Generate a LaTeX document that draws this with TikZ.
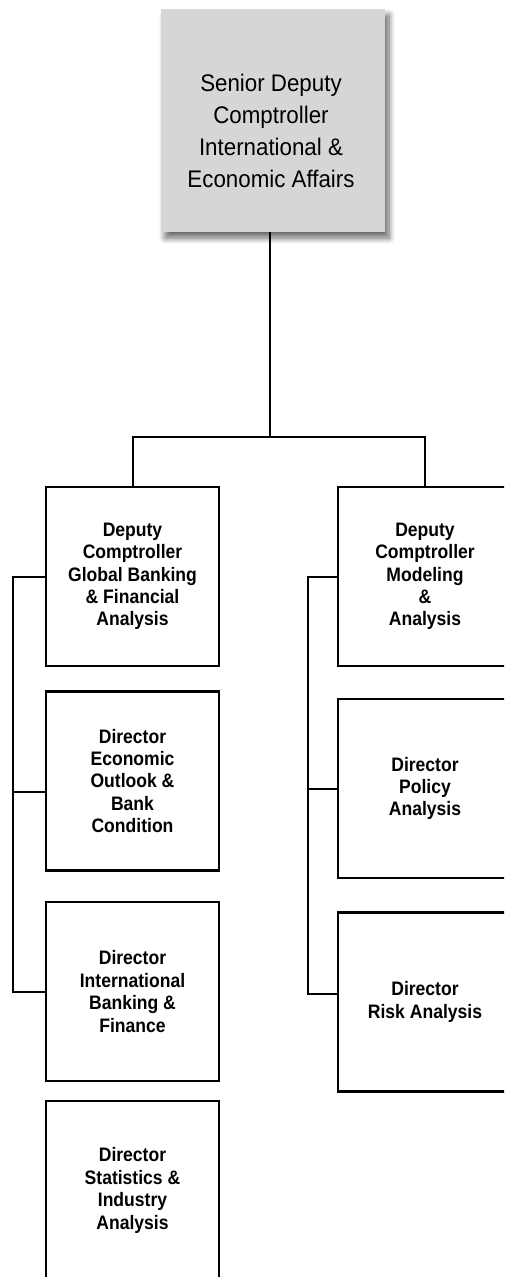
\documentclass[tikz,border=0pt]{standalone}
\usepackage{fontspec}
\setmainfont{Liberation Sans}
\newfontfamily\topfont{Liberation Sans}[FakeStretch=0.93]
\newfontfamily\boxfont{Liberation Sans Bold}[FakeStretch=0.9]
\usetikzlibrary{shadows.blur,calc}
\tikzset{
  topbox/.style={draw=none, fill=black!16, minimum width=224pt, minimum height=223pt,
    blur shadow={shadow xshift=4pt, shadow yshift=-6pt, shadow blur steps=10, shadow blur radius=6pt, shadow opacity=60}},
  toptext/.style={align=center, font=\topfont\fontsize{24}{32}\selectfont, inner sep=0pt},
  orgbox/.style={draw=black, line width=2.2pt, fill=white, minimum width=173pt, minimum height=179pt,
    align=center, font=\boxfont\fontsize{19.5}{22.4}\selectfont, inner sep=0pt},
  link/.style={draw=black, line width=2pt}
}
\begin{document}
\begin{tikzpicture}[x=1pt,y=-1pt]
\useasboundingbox (0,0) rectangle (504,1277);
\clip (0,0) rectangle (504,1277);
\node[topbox] (top) at (273,120.5) {};
\node[toptext] (toplabel) at (271,131) {Senior Deputy\\Comptroller\\International \&\\Economic Affairs};
\node[orgbox] (L1) at (132.5,576.5) {Deputy\\Comptroller\\Global Banking\\\& Financial\\Analysis};
\node[orgbox] (L2) at (132.5,781) {Director\\Economic\\Outlook \&\\Bank\\Condition};
\node[orgbox] (L3) at (132.5,991.5) {Director\\International\\Banking \&\\Finance};
\node[orgbox] (L4) at (132.5,1190.5) {Director\\Statistics \&\\Industry\\Analysis};
\node[orgbox, minimum width=174pt] (R1) at (425,576.5) {Deputy\\Comptroller\\Modeling\\\&\\Analysis};
\node[orgbox, minimum width=174pt] (R2) at (425,788.5) {Director\\Policy\\Analysis};
\node[orgbox, minimum width=174pt] (R3) at (425,1002) {Director\\Risk Analysis};
\coordinate (bar) at (270,437);
\coordinate (ls) at (13,576);
\coordinate (rs) at (308,576);
\draw[link] (top.south -| bar) -- (bar);
\draw[link] (L1.north) |- (bar) -| (R1.north);
\draw[link] (L1.west) -- (L1.west -| ls) |- (L3.west);
\draw[link] (ls |- 0,792) -- (L2.west |- 0,792);
\draw[link] (R1.west) -- (R1.west -| rs) |- ($(R3.west)+(0,-8)$);
\draw[link] (rs |- R2.west) -- (R2.west);
\end{tikzpicture}
\end{document}
